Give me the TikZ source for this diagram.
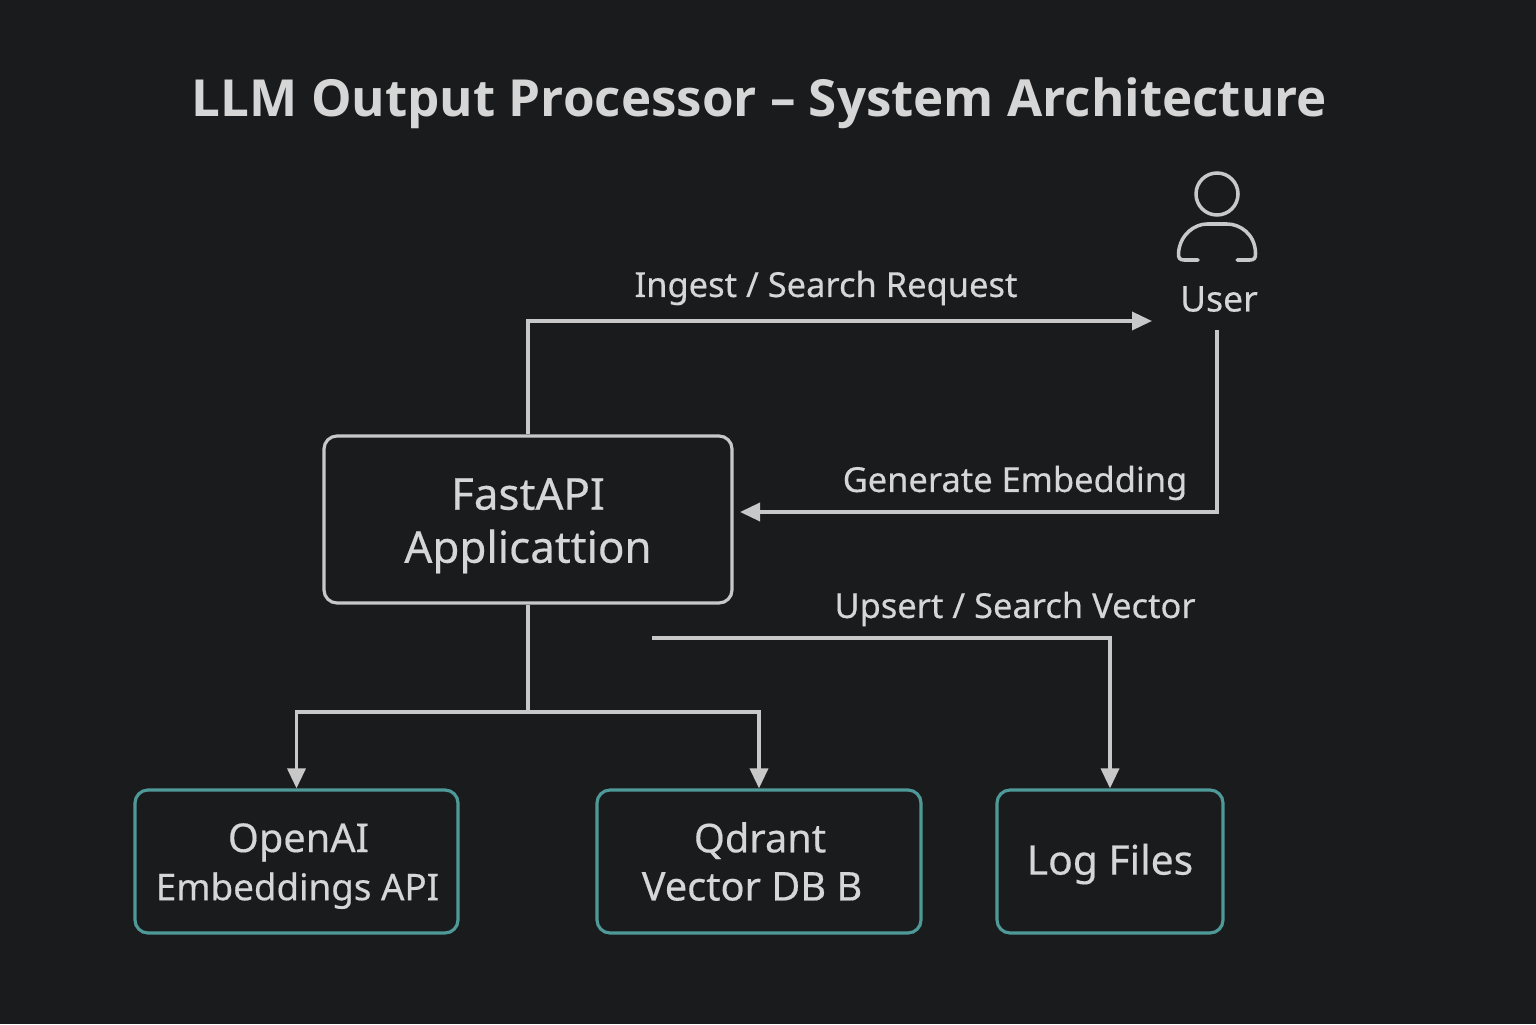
\documentclass[tikz,border=0pt]{standalone}
\usepackage{fontspec}
\setmainfont[FakeBold=0.4]{Noto Sans}
\newfontfamily\titlefont{Open Sans}
\usetikzlibrary{arrows.meta}
\definecolor{bgdark}{HTML}{191B1D}
\definecolor{txtgrey}{HTML}{D6D6D6}
\definecolor{linegrey}{HTML}{C8C8C8}
\definecolor{tealedge}{HTML}{4F9A98}
\tikzset{
  appbox/.style={draw=linegrey,line width=0.9pt,rounded corners=0.13cm,minimum width=4.08cm,minimum height=1.67cm,align=center,text=txtgrey,font=\fontsize{12.5}{15.1}\selectfont},
  teambox/.style={draw=tealedge,line width=0.9pt,rounded corners=0.13cm,minimum height=1.43cm,align=center,text=txtgrey,font=\fontsize{11.3}{13.7}\selectfont},
  flowlabel/.style={text=txtgrey,font=\fontsize{9.8}{12}\selectfont,inner sep=0pt},
  flow/.style={draw=linegrey,line width=1pt,-{Triangle[length=0.2cm,width=0.18cm]}},
  plainflow/.style={draw=linegrey,line width=1pt}
}
\begin{document}
\begin{tikzpicture}
      \fill [bgdark] (0,0) rectangle (15.36,10.24);
      \useasboundingbox (0,0) rectangle (15.36,10.24);

      \node [text=txtgrey,font=\titlefont\bfseries\fontsize{14.54}{17}\selectfont,inner sep=0pt] (title) at (7.595,9.21) {LLM Output Processor – System Architecture};

      % user icon
      \draw [linegrey,line width=1pt] (12.17,8.30) circle [radius=0.21];
      \draw [linegrey,line width=1pt,line cap=round] (11.98,7.64) -- (11.84,7.64) .. controls (11.80,7.64) and (11.78,7.66) .. (11.785,7.71) .. controls (11.80,7.90) and (11.95,8.00) .. (12.07,8.00) -- (12.27,8.00) .. controls (12.40,8.00) and (12.55,7.90) .. (12.555,7.71) .. controls (12.56,7.66) and (12.54,7.64) .. (12.50,7.64) -- (12.37,7.64);
      \node [text=txtgrey,font=\fontsize{10.1}{12}\selectfont,inner sep=0pt] (user) at (12.19,7.25) {User};

      \node [appbox] (app) at (5.28,5.045) {\rule{0pt}{0.44cm}FastAPI\\Applicattion};
      \node [teambox,minimum width=3.23cm] (openai) at (2.965,1.625) {\rule{0pt}{0.38cm}\hspace*{0.04cm}OpenAI\\\fontsize{10.45}{13.7}\selectfont\hspace*{0.02cm}Embeddings API};
      \node [teambox,minimum width=3.24cm] (qdrant) at (7.59,1.625) {\hspace*{0.02cm}Qdrant\\Vector DB B\hspace*{0.14cm}};
      \node [teambox,minimum width=2.26cm,font=\fontsize{11.6}{13.7}\selectfont] (logs) at (11.10,1.625) {\rule{0pt}{0.36cm}Log Files};

      \coordinate (userin) at (11.52,7.03);
      \coordinate (userout) at (12.17,6.94);
      \coordinate (appin) at (7.40,5.12);
      \coordinate (split) at (5.28,3.12);
      \coordinate (upstart) at (6.52,3.86);

      \draw [flow] (app.north) |- (userin);
      \draw [flow] (userout) |- (appin);
      \draw [plainflow] (app.south) to (split);
      \draw [flow] (split) -| (openai.north);
      \draw [flow] (split) -| (qdrant.north);
      \draw [flow] (upstart) -| (logs.north);

      \node [flowlabel] (ingest) at (8.26,7.36) {Ingest / Search Request};
      \node [flowlabel] (embed) at (10.15,5.41) {Generate Embedding};
      \node [flowlabel] (upsert) at (10.15,4.15) {Upsert / Search Vector};

    \end{tikzpicture}
\end{document}
